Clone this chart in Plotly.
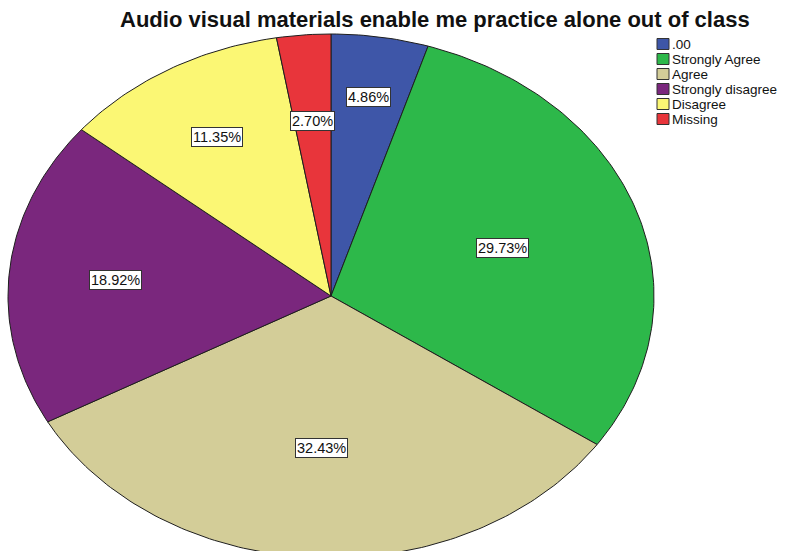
import numpy as np
import plotly.graph_objects as go

# Response categories and their shares (percent)
categories = [".00", "Strongly Agree", "Agree", "Strongly disagree", "Disagree", "Missing"]
percents = [4.86, 29.73, 32.43, 18.92, 11.35, 2.70]
colors = ["#3E56A8", "#2DB84A", "#D3CD98", "#7A277D", "#FBF774", "#E8353B"]
title_text = "Audio visual materials enable me practice alone out of class"

# Geometry of the (stretched) pie, in pixel units of the plotting axes
W, H = 793, 551
CX, CY = 331, 296
RX, RY = 323, 262
# radial position of each percentage label, as a fraction of the radius
label_r = [0.77, 0.56, 0.58, 0.67, 0.70, 0.67]

fig = go.Figure()

total = sum(percents)
start = 0.0
mids = []
for name, pct, col in zip(categories, percents, colors):
    frac0 = start / total
    frac1 = (start + pct) / total
    start += pct
    mids.append((frac0 + frac1) / 2)
    # angles measured clockwise from 12 o'clock
    t = np.linspace(frac0, frac1, max(int(pct * 4), 8)) * 2 * np.pi
    xs = np.concatenate([[CX], CX + RX * np.sin(t), [CX]])
    ys = np.concatenate([[CY], CY - RY * np.cos(t), [CY]])
    fig.add_trace(go.Scatter(
        x=xs, y=ys, mode="lines", fill="toself", fillcolor=col,
        line=dict(color="#1E1E1E", width=1), name=name,
        hoverinfo="skip", showlegend=False,
    ))

font_family = "Arial, Liberation Sans, sans-serif"
annotations = []
for pct, m, rf in zip(percents, mids, label_r):
    a = m * 2 * np.pi
    annotations.append(dict(
        x=CX + RX * rf * np.sin(a), y=CY - RY * rf * np.cos(a),
        xref="x", yref="y", text=f"{pct:.2f}%", showarrow=False,
        font=dict(family=font_family, size=14.5, color="#111111"),
        bgcolor="white", bordercolor="#333333", borderwidth=1, borderpad=1,
    ))

# Legend drawn as swatches with text
shapes = []
LX, LY0, LDY = 657, 44, 15
for i, (name, col) in enumerate(zip(categories, colors)):
    yc = LY0 + i * LDY
    shapes.append(dict(type="rect", xref="x", yref="y",
                       x0=LX, x1=LX + 12, y0=yc - 5.5, y1=yc + 5.5,
                       fillcolor=col, line=dict(color="#333333", width=1)))
    annotations.append(dict(
        x=LX + 14, y=yc, xref="x", yref="y", text=name, showarrow=False,
        xanchor="left", yanchor="middle", borderpad=0,
        font=dict(family=font_family, size=13.5, color="#111111"),
    ))

annotations.append(dict(
    x=435, y=19, xref="x", yref="y", text=f"<b>{title_text}</b>",
    showarrow=False, xanchor="center", yanchor="middle",
    font=dict(family=font_family, size=22, color="#111111"),
))

fig.update_layout(
    width=W, height=H,
    margin=dict(l=0, r=0, t=0, b=0),
    paper_bgcolor="white", plot_bgcolor="white",
    xaxis=dict(range=[0, W], visible=False, fixedrange=True),
    yaxis=dict(range=[H, 0], visible=False, fixedrange=True),
    annotations=annotations, shapes=shapes, showlegend=False,
)

fig.write_html("out.html")
